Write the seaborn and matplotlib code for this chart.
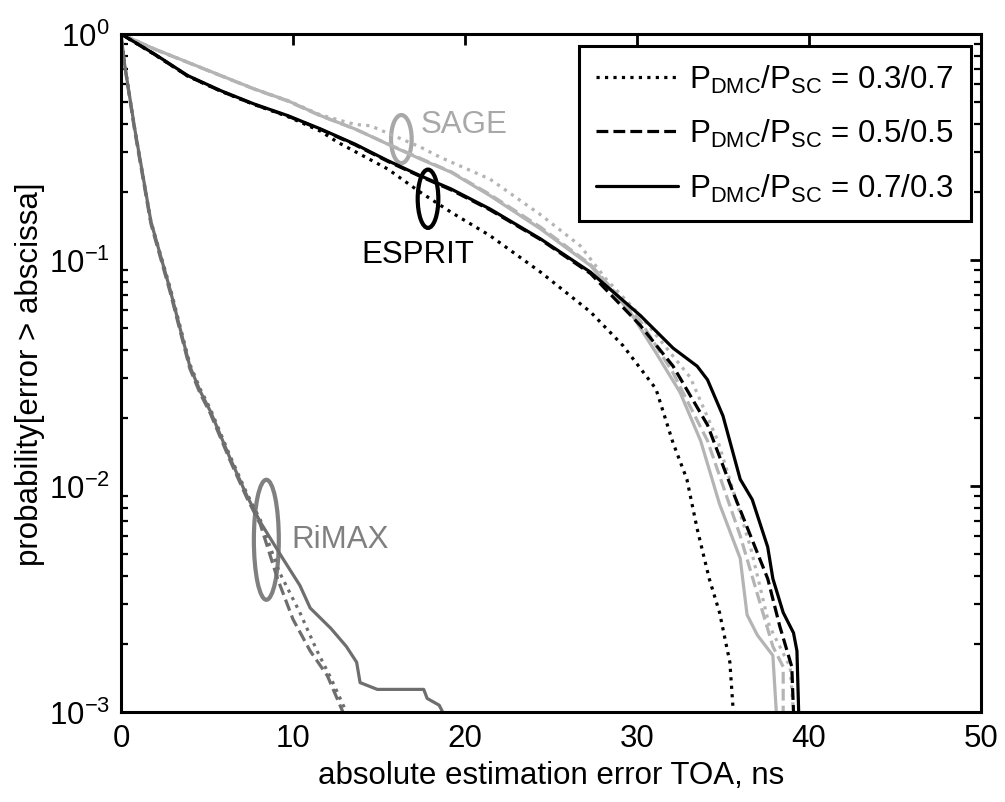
import numpy as np
import pandas as pd
import matplotlib
matplotlib.use("Agg")
import matplotlib.pyplot as plt
import seaborn as sns
from matplotlib.lines import Line2D
from matplotlib.patches import Ellipse

# ---------------- data (values are log10 of probability) ----------------
esp_solid_x = [0, 1.94, 3.88, 5.81, 7.75, 9.69, 11.6, 13.6, 15.5, 17.4, 19.2, 21.45, 24.4, 27.3, 30.2, 32.1, 33.5, 34.1, 35.0, 36.0, 36.7, 37.6, 37.9, 38.5, 39.1, 39.3, 39.4]
esp_solid_lp = [0, -0.088, -0.184, -0.251, -0.31, -0.361, -0.42, -0.487, -0.56, -0.627, -0.686, -0.774, -0.907, -1.054, -1.246, -1.39, -1.47, -1.53, -1.69, -1.97, -2.06, -2.27, -2.41, -2.56, -2.65, -2.73, -3.0]

esp_dash_x = [0, 1.94, 3.88, 5.81, 7.75, 9.69, 11.6, 13.6, 15.5, 17.4, 19.2, 21.45, 24.4, 27.3, 30.2, 32.1, 34.1, 35.6, 37.6, 38.3, 39.0, 39.1]
esp_dash_lp = [0, -0.09, -0.186, -0.253, -0.312, -0.363, -0.422, -0.49, -0.563, -0.63, -0.69, -0.778, -0.91, -1.06, -1.29, -1.47, -1.73, -2.03, -2.41, -2.62, -2.80, -3.0]

esp_dot_x = [0, 1.94, 3.88, 5.81, 7.75, 9.69, 11.6, 12.6, 15.5, 17.4, 19.2, 21.45, 24.4, 27.3, 29.2, 31.1, 32.1, 32.9, 33.5, 34.2, 34.8, 35.4, 35.6]
esp_dot_lp = [0, -0.09, -0.186, -0.253, -0.312, -0.365, -0.43, -0.479, -0.597, -0.70, -0.789, -0.892, -1.054, -1.23, -1.38, -1.57, -1.81, -1.97, -2.19, -2.41, -2.56, -2.78, -3.0]

sage_solid_x = [0, 1.94, 3.88, 5.81, 7.75, 9.69, 11.6, 13.6, 15.5, 17.4, 19.2, 21.45, 24.4, 27.3, 29.6, 31.1, 32.5, 33.7, 34.8, 36.0, 36.4, 37.0, 37.9, 38.1]
sage_solid_lp = [0, -0.066, -0.125, -0.184, -0.243, -0.295, -0.361, -0.42, -0.487, -0.553, -0.612, -0.715, -0.863, -1.025, -1.23, -1.41, -1.585, -1.80, -2.08, -2.32, -2.57, -2.66, -2.75, -3.0]

sage_dash_x = [0, 1.94, 3.88, 5.81, 7.75, 9.69, 11.6, 13.6, 15.5, 17.4, 19.2, 21.45, 24.4, 27.3, 30.2, 32.1, 34.1, 36.0, 37.2, 37.9, 38.5, 38.5]
sage_dash_lp = [0, -0.067, -0.126, -0.185, -0.244, -0.297, -0.362, -0.42, -0.486, -0.55, -0.61, -0.71, -0.855, -1.02, -1.27, -1.50, -1.80, -2.22, -2.53, -2.71, -2.80, -3.0]

sage_dot_x = [0, 1.94, 3.88, 5.81, 7.75, 9.69, 11.6, 13.6, 14.5, 17.4, 18.55, 21.45, 24.4, 26.7, 28.2, 30.2, 33.1, 34.7, 36.6, 37.7, 38.9, 39.1]
sage_dot_lp = [0, -0.066, -0.125, -0.184, -0.243, -0.294, -0.358, -0.40, -0.406, -0.50, -0.545, -0.642, -0.80, -0.937, -1.084, -1.246, -1.52, -1.80, -2.27, -2.62, -2.80, -3.0]

rim_solid_x = [0, 0.2, 0.8, 1.74, 2.85, 4.0, 4.6, 5.2, 6.3, 7.3, 8.1, 9.4, 10.4, 11.0, 12.2, 13.1, 13.7, 13.9, 14.9, 17.6, 17.8, 18.5, 18.7]
rim_solid_lp = [0, -0.13, -0.42, -0.83, -1.13, -1.47, -1.58, -1.67, -1.87, -2.04, -2.16, -2.32, -2.44, -2.54, -2.63, -2.71, -2.78, -2.87, -2.90, -2.90, -2.94, -2.97, -3.0]

rim_dash_x = [0, 0.2, 0.8, 1.74, 2.85, 4.0, 4.6, 5.2, 6.3, 7.3, 8.1, 9.1, 10.0, 11.0, 12.0, 12.9]
rim_dash_lp = [0, -0.13, -0.43, -0.84, -1.14, -1.48, -1.59, -1.68, -1.88, -2.05, -2.17, -2.41, -2.59, -2.73, -2.84, -3.0]

rim_dot_x = [0, 0.2, 0.8, 1.74, 2.85, 4.0, 4.6, 5.2, 6.3, 7.3, 8.1, 9.2, 10.4, 11.4, 12.2, 13.1]
rim_dot_lp = [0, -0.13, -0.42, -0.83, -1.12, -1.46, -1.57, -1.66, -1.86, -2.03, -2.15, -2.38, -2.56, -2.73, -2.85, -3.0]

legend_labels = [r"P$_{\mathregular{DMC}}$/P$_{\mathregular{SC}}$ = 0.3/0.7",
                 r"P$_{\mathregular{DMC}}$/P$_{\mathregular{SC}}$ = 0.5/0.5",
                 r"P$_{\mathregular{DMC}}$/P$_{\mathregular{SC}}$ = 0.7/0.3"]
x_ticks = [0, 10, 20, 30, 40, 50]

# ---------------- style ----------------
sns.set_style("white")
plt.rcParams["font.family"] = ["Liberation Sans", "DejaVu Sans"]
plt.rcParams["mathtext.fontset"] = "custom"
plt.rcParams["mathtext.rm"] = "Liberation Sans"
plt.rcParams["mathtext.it"] = "Liberation Sans:italic"
plt.rcParams["mathtext.bf"] = "Liberation Sans:bold"
plt.rcParams["text.color"] = "black"
plt.rcParams["axes.labelcolor"] = "black"
plt.rcParams["xtick.color"] = "black"
plt.rcParams["ytick.color"] = "black"

FS = 22.5
C_RIM = "#6e6e6e"
C_SAGE = "#b4b4b4"
C_ESP = "#000000"

fig = plt.figure(figsize=(10.05, 8.03), dpi=100)
ax = fig.add_axes([0.1204, 0.1121, 0.8557, 0.8443])

series = [
    (rim_dot_x, rim_dot_lp, C_RIM, ":"),
    (rim_dash_x, rim_dash_lp, C_RIM, "--"),
    (rim_solid_x, rim_solid_lp, C_RIM, "-"),
    (sage_dot_x, sage_dot_lp, C_SAGE, ":"),
    (sage_dash_x, sage_dash_lp, C_SAGE, "--"),
    (sage_solid_x, sage_solid_lp, C_SAGE, "-"),
    (esp_dot_x, esp_dot_lp, C_ESP, ":"),
    (esp_dash_x, esp_dash_lp, C_ESP, "--"),
    (esp_solid_x, esp_solid_lp, C_ESP, "-"),
]
for xs, lps, col, ls in series:
    df = pd.DataFrame({"x": xs, "p": np.power(10.0, lps)})
    sns.lineplot(data=df, x="x", y="p", ax=ax, color=col, linestyle=ls,
                 linewidth=2.3, estimator=None, sort=False, legend=False)

ax.set_yscale("log")
ax.set_xlim(0, 50)
ax.set_ylim(1e-3, 1)
ax.set_xticks(x_ticks)
ax.set_xticklabels([str(t) for t in x_ticks])

for s in ax.spines.values():
    s.set_visible(True)
    s.set_color("black")
    s.set_linewidth(2.2)

ax.tick_params(which="major", direction="in", length=8, width=2.0, top=True, right=True,
               labelsize=FS, colors="black", pad=8)
ax.tick_params(which="minor", direction="in", length=5, width=1.6, top=False, right=True, left=True)
ax.tick_params(axis="x", which="minor", bottom=False, top=False)

ax.set_xlabel("absolute estimation error TOA, ns", fontsize=FS, labelpad=5, color="black")
ax.set_ylabel("probability[error > abscissa]", fontsize=FS, labelpad=3, color="black")

# annotations
ax.text(17.44, 0.40, "SAGE", color="#a8a8a8", fontsize=FS, va="center", ha="left")
ax.text(17.27, 0.106, "ESPRIT", color="black", fontsize=FS, va="center", ha="center")
ax.text(9.88, 0.0058, "RiMAX", color="#808080", fontsize=FS, va="center", ha="left")
ax.add_patch(Ellipse((0.326, 0.845), 0.024, 0.071, transform=ax.transAxes, fill=False,
                     edgecolor="#a8a8a8", linewidth=3))
ax.add_patch(Ellipse((0.357, 0.757), 0.024, 0.086, transform=ax.transAxes, fill=False,
                     edgecolor="black", linewidth=3))
ax.add_patch(Ellipse((0.169, 0.254), 0.029, 0.177, transform=ax.transAxes, fill=False,
                     edgecolor="#808080", linewidth=3))

handles = [Line2D([], [], color="black", linestyle=ls, linewidth=2.3) for ls in [":", "--", "-"]]
leg = ax.legend(handles, legend_labels, loc="upper right", bbox_to_anchor=(0.988, 0.983),
                borderaxespad=0, fontsize=FS, handlelength=2.6, handletextpad=0.35,
                frameon=True, fancybox=False, edgecolor="black", framealpha=1,
                labelspacing=0.72, borderpad=0.55)
leg.get_frame().set_linewidth(2.2)
for t in leg.get_texts():
    t.set_color("black")

fig.savefig("out.png", dpi=100, facecolor="white")
